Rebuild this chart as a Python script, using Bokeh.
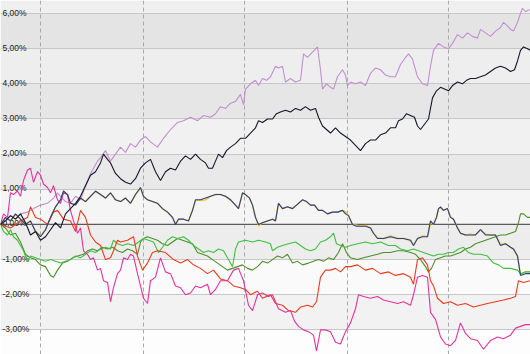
from bokeh.plotting import figure
from bokeh.models import Range1d, FixedTicker, Span
from bokeh.core.properties import value
from bokeh.embed import file_html
from bokeh.resources import INLINE

# ---- data (t = trading-day position x2, value = cumulative change in %) ----
lavender = [(0,0),(5,0.1),(10,0.25),(15,0.15),(20,0.3),(27,0.35),(33,0.45),(40,0.55),(47,0.6),(53,0.75),
    (57,0.9),(60,0.8),(65,0.65),(70,0.6),(75,0.8),(80,0.7),(85,1.1),(90,1.45),(93,1.6),(97,1.8),(100,1.9),
    (105,2.1),(110,1.8),(115,2.0),(120,2.2),(125,2.05),(130,2.3),(135,2.2),(140,2.4),(145,2.5),(150,2.35),
    (157,2.2),(163,2.45),(170,2.7),(177,2.9),(183,2.95),(190,3.05),(197,2.95),(203,3.1),(210,3.05),(215,3.15),
    (220,3.35),(225,3.3),(230,3.45),(235,3.5),(240,3.7),(243,3.4),(245,3.85),(250,4.0),(255,4.1),(258,3.95),
    (262,4.15),(266,4.1),(270,4.2),(275,4.5),(278,4.45),(282,4.5),(285,4.05),(290,4.15),(295,4.05),(300,4.1),
    (303,4.85),(307,4.75),(312,4.9),(317,5.05),(320,4.4),(322,3.85),(326,4.0),(330,3.9),(333,3.85),(337,4.2),
    (342,4.4),(345,4.25),(347,3.95),(350,4.05),(355,4.0),(360,4.05),(365,3.95),(370,4.3),(375,4.45),(380,4.4),
    (385,4.25),(390,4.2),(395,4.2),(400,4.55),(405,4.75),(408,4.85),(412,4.7),(417,4.2),(422,4.0),(427,3.95),
    (430,4.5),(433,4.95),(438,5.15),(443,5.05),(448,5.0),(452,5.15),(457,5.4),(462,5.3),(467,5.45),(472,5.35),
    (477,5.3),(480,5.55),(485,5.45),(490,5.35),(495,5.5),(500,5.6),(503,5.75),(507,5.65),(510,5.55),(513,5.5),
    (517,5.75),(520,6.0),(522,6.15),(525,6.05),(528,6.1),(530,6.1)]

black = [(0,0),(5,0.1),(10,0.25),(15,0.15),(20,0.3),(25,0.05),(30,-0.3),(35,-0.2),(40,-0.45),(45,-0.35),
    (50,-0.15),(55,0.05),(60,-0.1),(65,0.3),(70,0.45),(75,0.6),(80,0.8),(85,1.1),(90,1.4),(95,1.5),(100,1.75),
    (103,2.0),(107,1.85),(110,1.75),(115,1.45),(120,1.3),(125,1.2),(130,1.15),(135,1.3),(140,1.6),(145,1.75),
    (150,1.85),(155,1.5),(160,1.25),(165,1.5),(170,1.6),(175,1.55),(180,1.8),(185,1.95),(190,1.85),(195,2.0),
    (200,1.85),(205,1.75),(208,1.6),(212,1.6),(215,1.8),(218,2.0),(222,1.9),(226,2.1),(230,2.2),(235,2.3),
    (240,2.45),(245,2.45),(250,2.6),(255,2.75),(258,2.95),(262,2.9),(267,3.0),(272,3.0),(276,3.15),(280,3.2),
    (285,3.25),(290,3.2),(295,3.3),(300,3.25),(305,3.35),(310,3.25),(315,3.3),(318,3.05),(322,2.8),(326,2.7),
    (330,2.6),(335,2.75),(340,2.6),(345,2.5),(350,2.4),(355,2.25),(360,2.1),(365,2.3),(370,2.4),(375,2.4),
    (380,2.55),(385,2.6),(390,2.75),(395,2.75),(398,2.95),(402,3.0),(406,3.15),(410,3.1),(414,3.05),(417,2.8),
    (420,2.7),(424,2.85),(428,3.0),(432,3.6),(436,3.8),(440,3.9),(444,3.85),(448,3.8),(452,3.95),(457,4.05),
    (462,4.0),(466,4.1),(470,4.15),(475,4.15),(480,4.2),(485,4.25),(490,4.35),(495,4.45),(500,4.5),(505,4.45),
    (510,4.35),(514,4.4),(517,4.65),(520,4.95),(523,5.05),(527,5.0),(530,4.95)]

blue = [(0,0),(5,0.2),(10,0.1),(15,0.3),(20,0.15),(25,0.0),(30,0.1),(35,-0.2),(40,-0.35),(45,-0.15),
    (50,0.2),(55,0.5),(60,0.7),(63,0.95),(67,0.85),(70,0.6),(75,0.55),(80,0.75),(85,0.65),(90,0.8),
    (95,0.95),(100,0.85),(105,0.75),(110,0.9),(115,0.7),(120,0.65),(125,0.75),(130,0.6),(135,0.85),(140,1.05),
    (143,0.8),(147,0.7),(152,0.65),(157,0.6),(162,0.45),(167,0.35),(172,0.2),(175,0.0),(178,0.15),(183,0.15),
    (188,0.1),(192,0.4),(195,0.7),(200,0.7),(205,0.75),(210,0.8),(215,0.85),(220,0.85),(225,0.8),(230,0.7),
    (235,0.55),(238,0.45),(242,0.9),(245,0.85),(249,0.75),(252,0.55),(255,0.2),(258,0.0),(262,0.05),(267,0.1),
    (272,0.15),(275,0.1),(278,0.6),(282,0.45),(287,0.5),(292,0.45),(298,0.6),(302,0.7),(306,0.65),(310,0.55),
    (314,0.55),(318,0.4),(322,0.4),(327,0.3),(332,0.35),(337,0.35),(342,0.4),(345,0.3),(348,0.25),(352,0.0),
    (356,-0.05),(360,-0.05),(365,-0.05),(370,-0.1),(373,-0.25),(377,-0.4),(383,-0.4),(390,-0.35),(397,-0.4),(403,-0.4),
    (410,-0.45),(413,-0.6),(417,-0.4),(422,-0.35),(427,-0.35),(430,0.1),(433,0.0),(436,0.2),(438,0.45),(440,0.5),
    (443,0.4),(447,0.45),(450,0.2),(453,0.15),(457,-0.1),(460,-0.25),(465,-0.3),(470,-0.3),(475,-0.3),(480,-0.15),
    (485,-0.3),(490,-0.3),(495,-0.3),(500,-0.6),(505,-0.55),(510,-0.65),(513,-0.7),(517,-0.9),(520,-1.45),(525,-1.4),
    (530,-1.4)]

yellow = [(0,0),(5,0.18),(10,0.1),(15,0.28),(20,0.15),(25,0.0),(30,0.1),(35,-0.2),(40,-0.33),(45,-0.15),
    (50,0.2),(55,0.5),(60,0.7),(63,0.93),(67,0.85),(70,0.6),(75,0.57),(80,0.75),(85,0.65),(90,0.8),
    (95,0.93),(100,0.85),(105,0.75),(110,0.9),(115,0.7),(120,0.65),(125,0.75),(130,0.6),(135,0.85),(140,1.03),
    (143,0.8),(147,0.7),(152,0.65),(157,0.6),(162,0.45),(167,0.35),(172,0.2),(175,0.02),(178,0.15),(183,0.15),
    (188,0.1),(192,0.4),(195,0.7),(200,0.68),(205,0.7),(210,0.8),(215,0.85),(220,0.85),(225,0.8),(230,0.7),
    (235,0.55),(238,0.45),(242,0.88),(245,0.85),(249,0.75),(252,0.55),(255,0.2),(258,-0.04),(262,0.05),(267,0.1),
    (272,0.15),(275,0.1),(278,0.6),(282,0.45),(287,0.5),(292,0.45),(298,0.6),(302,0.7),(306,0.65),(310,0.55),
    (314,0.55),(318,0.4),(322,0.4),(327,0.3),(332,0.35),(337,0.35),(342,0.4),(345,0.36),(348,0.25),(352,0.0),
    (356,-0.02),(360,-0.05),(365,-0.03),(370,-0.1),(373,-0.25),(377,-0.38),(383,-0.4),(390,-0.33),(397,-0.4),(403,-0.4),
    (410,-0.45),(413,-0.6),(417,-0.4),(422,-0.33),(427,-0.35),(430,0.04),(433,0.0),(436,0.2),(438,0.45),(440,0.47),
    (443,0.4),(447,0.45),(450,0.22),(453,0.15),(457,-0.1),(460,-0.25),(465,-0.3),(470,-0.28),(475,-0.3),(480,-0.15),
    (485,-0.28),(490,-0.3),(495,-0.3),(500,-0.57),(505,-0.55),(510,-0.65),(513,-0.7),(517,-0.9),(520,-1.42),(525,-1.35),
    (530,-1.35)]

red = [(0,0),(5,-0.05),(10,-0.1),(15,0.0),(20,0.1),(27,0.2),(30,0.5),(35,0.2),(40,0.15),(47,0.0),(53,0.35),
    (57,0.4),(63,0.15),(70,0.1),(75,-0.2),(80,0.4),(85,0.2),(90,-0.3),(95,-0.5),(100,-0.6),(105,-1.0),(110,-0.95),
    (113,-0.75),(117,-0.45),(120,-0.5),(127,-0.45),(133,-0.35),(137,-0.9),(142,-1.3),(147,-1.1),(152,-0.8),
    (157,-0.75),(165,-0.8),(173,-1.0),(180,-1.1),(187,-1.0),(193,-1.15),(200,-1.25),(207,-1.4),(213,-1.3),
    (220,-1.55),(227,-1.6),(233,-1.75),(240,-1.8),(245,-1.85),(250,-2.0),(257,-1.9),(262,-2.1),(270,-2.0),
    (275,-2.25),(282,-2.3),(288,-2.45),(295,-2.5),(300,-2.35),(307,-2.3),(312,-2.35),(316,-2.2),(320,-1.5),
    (325,-1.3),(330,-1.3),(335,-1.25),(340,-1.35),(345,-1.2),(350,-1.2),(357,-1.15),(365,-1.3),(372,-1.25),
    (380,-1.4),(388,-1.35),(395,-1.45),(403,-1.4),(410,-1.5),(413,-1.7),(417,-1.0),(422,-0.95),(427,-1.15),
    (430,-1.6),(433,-1.75),(437,-2.1),(443,-2.25),(450,-2.2),(457,-2.3),(465,-2.25),(473,-2.35),(480,-2.3),
    (487,-2.25),(495,-2.2),(503,-2.15),(510,-2.1),(515,-2.05),(518,-1.6),(523,-1.65),(530,-1.6)]

magenta = [(0,0),(3,0.3),(7,0.2),(10,0.9),(13,0.85),(17,0.95),(20,0.8),(23,1.25),(27,1.55),(30,1.6),(33,1.2),
    (37,1.5),(40,1.4),(43,1.15),(47,1.05),(50,0.9),(53,1.1),(57,0.7),(60,0.6),(63,0.9),(67,0.85),(70,0.4),
    (73,0.1),(77,-0.25),(80,-0.1),(83,-0.75),(87,-0.85),(90,-1.0),(93,-0.95),(97,-1.3),(100,-1.25),(103,-1.6),
    (107,-1.65),(110,-2.2),(113,-1.8),(117,-1.4),(120,-1.3),(123,-0.95),(127,-1.0),(130,-0.85),(133,-0.9),
    (137,-1.4),(140,-1.75),(143,-2.1),(147,-2.25),(150,-1.6),(155,-1.5),(160,-0.95),(165,-1.35),(170,-1.4),
    (175,-1.75),(180,-1.8),(185,-2.0),(190,-1.95),(195,-1.75),(200,-1.8),(207,-1.7),(210,-2.0),(215,-1.85),
    (220,-1.6),(227,-1.6),(233,-1.3),(238,-1.25),(243,-1.6),(248,-2.3),(252,-2.45),(257,-2.0),(262,-1.95),
    (268,-2.05),(272,-2.0),(278,-2.4),(285,-2.5),(290,-2.45),(294,-2.75),(298,-2.9),(303,-3.0),(308,-3.05),
    (313,-3.15),(316,-3.6),(320,-3.0),(325,-3.0),(330,-3.05),(335,-3.35),(340,-3.4),(345,-3.05),(350,-2.8),
    (355,-2.4),(358,-2.0),(363,-2.05),(370,-2.1),(377,-2.05),(383,-2.15),(390,-2.2),(397,-2.25),(403,-2.2),
    (410,-2.3),(413,-2.0),(417,-1.5),(422,-1.45),(427,-1.5),(430,-2.5),(435,-2.7),(440,-3.2),(445,-3.4),
    (450,-3.45),(455,-3.3),(460,-2.8),(465,-3.1),(470,-3.25),(477,-3.3),(483,-3.55),(490,-3.3),(497,-3.2),
    (503,-3.25),(510,-3.15),(515,-2.95),(520,-2.9),(525,-2.85),(530,-2.85)]

green = [(0,0),(3,-0.2),(7,-0.3),(10,-0.15),(13,-0.35),(17,-0.45),(20,-0.6),(23,-0.75),(27,-1.05),(30,-0.9),
    (35,-0.95),(40,-1.0),(45,-1.05),(50,-1.0),(55,-1.05),(60,-1.1),(65,-1.05),(70,-1.0),(75,-0.9),(80,-0.95),
    (85,-0.85),(90,-0.75),(95,-0.8),(100,-0.7),(105,-0.65),(110,-0.7),(113,-0.45),(117,-0.55),(122,-0.6),
    (127,-0.55),(133,-0.6),(138,-0.5),(143,-0.4),(148,-0.45),(153,-0.5),(158,-0.8),(162,-0.65),(167,-0.45),
    (172,-0.35),(177,-0.4),(183,-0.35),(188,-0.45),(193,-0.6),(198,-0.7),(203,-0.8),(208,-0.75),(213,-0.8),
    (218,-0.7),(223,-0.75),(228,-1.0),(232,-1.2),(235,-0.7),(238,-0.5),(245,-0.45),(252,-0.5),(258,-0.45),
    (265,-0.5),(270,-0.55),(272,-0.75),(277,-0.65),(282,-0.6),(288,-0.55),(295,-0.5),(300,-0.6),(305,-0.7),
    (310,-0.75),(315,-0.7),(320,-0.5),(325,-0.45),(330,-0.35),(333,-0.25),(336,-0.55),(340,-0.6),(345,-0.65),
    (350,-0.6),(357,-0.55),(365,-0.5),(372,-0.55),(380,-0.5),(388,-0.6),(395,-0.6),(400,-0.7),(407,-0.75),
    (413,-0.7),(418,-0.75),(423,-0.8),(428,-0.85),(433,-0.9),(438,-0.85),(443,-0.85),(448,-0.8),(453,-0.8),
    (458,-0.7),(463,-0.65),(468,-0.8),(473,-0.85),(480,-0.85),(487,-0.9),(493,-1.1),(498,-1.15),(503,-1.25),
    (510,-1.25),(517,-1.3),(520,-1.4),(525,-1.35),(530,-1.35)]

olive = [(0,0),(5,-0.1),(10,-0.3),(15,-0.25),(20,-0.5),(25,-0.85),(30,-0.95),(35,-1.0),(40,-1.15),(45,-1.2),
    (50,-1.45),(53,-1.5),(57,-1.3),(62,-1.1),(67,-1.05),(72,-0.95),(77,-0.9),(83,-0.85),(87,-0.75),(92,-0.7),
    (97,-0.75),(102,-0.65),(107,-0.7),(112,-0.65),(117,-0.75),(122,-0.8),(127,-0.7),(132,-0.75),(137,-0.85),
    (140,-0.5),(143,-0.4),(147,-0.35),(152,-0.4),(157,-0.45),(162,-0.55),(167,-0.6),(172,-0.5),(177,-0.4),
    (182,-0.45),(187,-0.5),(192,-0.55),(197,-0.8),(202,-0.85),(207,-0.9),(212,-1.0),(217,-1.1),(222,-1.2),
    (227,-1.3),(232,-1.25),(237,-1.2),(242,-1.15),(247,-1.25),(252,-1.3),(257,-1.2),(262,-1.05),(267,-1.1),
    (272,-1.0),(277,-0.9),(282,-0.95),(287,-0.85),(292,-1.1),(297,-1.05),(302,-1.15),(308,-1.1),(313,-1.05),
    (318,-1.0),(323,-1.05),(328,-0.95),(333,-1.0),(338,-0.8),(342,-0.55),(346,-0.8),(350,-0.95),(357,-1.0),
    (363,-0.95),(370,-0.9),(377,-0.85),(383,-0.8),(390,-0.8),(397,-0.75),(403,-0.75),(410,-0.8),(415,-0.85),
    (420,-1.0),(425,-1.2),(428,-1.35),(431,-1.25),(435,-1.0),(440,-0.95),(445,-0.9),(450,-0.9),(455,-0.85),
    (460,-0.8),(465,-0.7),(470,-0.65),(475,-0.55),(480,-0.5),(485,-0.45),(490,-0.4),(495,-0.35),(500,-0.3),
    (505,-0.3),(510,-0.25),(515,-0.2),(518,0.05),(520,0.3),(523,0.3),(527,0.2),(530,0.2)]

y_ticks = [6, 5, 4, 3, 2, 1, 0, -1, -2, -3]
y_labels = ["6,00%", "5,00%", "4,00%", "3,00%", "2,00%", "1,00%", "0,00%", "-1,00%", "-2,00%", "-3,00%"]
period_marks = [20.15, 71.35, 122.15, 173.35, 224.15]  # period boundaries (days)

# ---- figure ----
Y_MIN, Y_MAX = -3.70, 6.37
p = figure(width=530, height=354, x_range=Range1d(0, 265), y_range=Range1d(Y_MIN, Y_MAX),
           output_backend="svg", toolbar_location=None, min_border=0,
           background_fill_color="white", border_fill_color="white", outline_line_color=None)
p.xaxis.visible = False
p.yaxis.visible = False

# alternating horizontal bands
edges = [Y_MAX] + y_ticks + [Y_MIN]
band_colors = ["#efefef", "#e4e4e4", "#eeeeee", "#e6e6e6", "#f1f1f1", "#e9e9e9",
               "#f5f5f5", "#ededed", "#fafafa", "#f2f2f2", "#fdfdfd"]
p.quad(left=0, right=265, top=edges[:-1], bottom=edges[1:], fill_color=band_colors,
       line_color=None, level="image")

p.ygrid.ticker = FixedTicker(ticks=[t for t in y_ticks if t != 0])
p.ygrid.grid_line_color = "#c6c6c6"
p.ygrid.grid_line_width = 1.2
p.xgrid.ticker = FixedTicker(ticks=period_marks)
p.xgrid.grid_line_color = "#a8a8a8"
p.xgrid.grid_line_dash = "4 3"
p.xgrid.grid_line_width = 1

p.add_layout(Span(location=0, dimension="width", line_color="#5a5a5a", line_width=1.3, level="underlay"))

# tick labels inside the plot
p.text(x=[1] * len(y_ticks), y=y_ticks, text=y_labels, text_font=value("Liberation Sans"),
       text_font_size="8.5px", text_color="#222222", text_baseline="alphabetic", y_offset=-1)

def draw(series, color, width=1.1):
    t = [a / 2 for a, _ in series]
    v = [b for _, b in series]
    p.line(t, v, line_color=color, line_width=width)

draw(lavender, "#c28fcf")
draw(yellow, "#f2c12e", 1.4)
draw(olive, "#4f8d2c")
draw(green, "#3fbf3f")
draw(red, "#ea3a1f")
draw(magenta, "#e2339d")
draw(blue, "#24418f")
draw(black, "#15172a")

open("out.html", "w").write(file_html(p, INLINE))
